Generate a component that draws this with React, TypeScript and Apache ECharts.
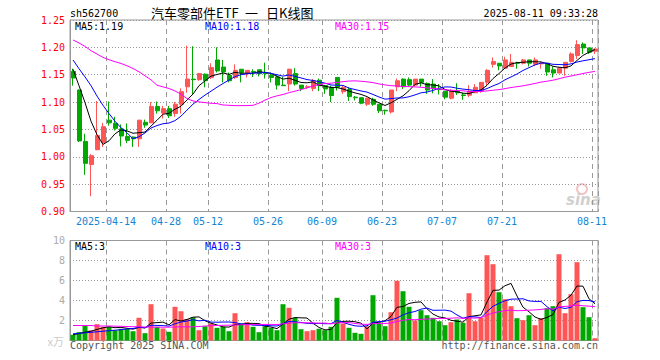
import React, { useEffect, useRef } from "react";
import * as echarts from "echarts";

const dates = ["04-03","04-07","04-08","04-09","04-10","04-11","04-14","04-15","04-16","04-17","04-18","04-21","04-22","04-23","04-24","04-25","04-28","04-29","04-30","05-06","05-07","05-08","05-09","05-12","05-13","05-14","05-15","05-16","05-19","05-20","05-21","05-22","05-23","05-26","05-27","05-28","05-29","05-30","06-03","06-04","06-05","06-06","06-09","06-10","06-11","06-12","06-13","06-16","06-17","06-18","06-19","06-20","06-23","06-24","06-25","06-26","06-27","06-30","07-01","07-02","07-03","07-04","07-07","07-08","07-09","07-10","07-11","07-14","07-15","07-16","07-17","07-18","07-21","07-22","07-23","07-24","07-25","07-28","07-29","07-30","07-31","08-01","08-04","08-05","08-06","08-07","08-08","08-11"];

const tickDates = ["04-14","04-28","05-12","05-26","06-09","06-23","07-07","07-21","08-11"];
const tickLabels = ["2025-04-14","04-28","05-12","05-26","06-09","06-23","07-07","07-21","08-11"];

const opens = [1.156,1.122,1.028,0.986,1.013,1.026,1.067,1.061,1.051,1.037,1.036,1.033,1.063,1.062,1.092,1.080,1.088,1.079,1.096,1.128,1.142,1.141,1.151,1.145,1.177,1.164,1.149,1.145,1.160,1.152,1.156,1.159,1.153,1.149,1.146,1.131,1.133,1.152,1.131,1.127,1.125,1.140,1.130,1.127,1.145,1.119,1.123,1.109,1.108,1.096,1.105,1.096,1.085,1.082,1.128,1.142,1.141,1.131,1.142,1.134,1.133,1.124,1.120,1.107,1.120,1.113,1.1125,1.117,1.120,1.136,1.169,1.171,1.162,1.165,1.1715,1.171,1.177,1.169,1.170,1.171,1.159,1.153,1.162,1.174,1.185,1.206,1.199,1.193];
const closes = [1.144,1.029,0.988,1.002,1.039,1.055,1.062,1.052,1.038,1.030,1.033,1.067,1.058,1.092,1.084,1.088,1.075,1.096,1.119,1.142,1.141,1.152,1.139,1.163,1.157,1.155,1.139,1.158,1.154,1.158,1.155,1.152,1.152,1.145,1.131,1.130,1.160,1.133,1.125,1.128,1.139,1.130,1.124,1.112,1.127,1.127,1.110,1.108,1.098,1.107,1.096,1.084,1.084,1.122,1.139,1.128,1.131,1.142,1.136,1.122,1.125,1.123,1.109,1.120,1.117,1.112,1.120,1.127,1.136,1.158,1.174,1.166,1.177,1.1725,1.171,1.177,1.171,1.177,1.171,1.155,1.153,1.162,1.1725,1.188,1.205,1.199,1.191,1.197];
const lows = [1.130,1.027,0.967,0.928,1.012,1.018,1.057,1.048,1.019,1.025,1.018,1.018,1.053,1.062,1.079,1.070,1.071,1.073,1.079,1.117,1.114,1.139,1.127,1.142,1.154,1.136,1.136,1.142,1.136,1.145,1.146,1.147,1.143,1.136,1.123,1.130,1.120,1.130,1.120,1.124,1.120,1.120,1.115,1.100,1.121,1.115,1.102,1.103,1.096,1.093,1.093,1.080,1.077,1.079,1.120,1.124,1.128,1.128,1.128,1.115,1.116,1.114,1.105,1.105,1.113,1.104,1.109,1.117,1.117,1.130,1.163,1.158,1.162,1.165,1.161,1.169,1.165,1.166,1.161,1.148,1.145,1.153,1.148,1.1725,1.179,1.188,1.188,1.188];
const highs = [1.161,1.123,1.042,1.005,1.102,1.062,1.101,1.073,1.059,1.061,1.037,1.067,1.068,1.100,1.101,1.093,1.093,1.100,1.125,1.203,1.202,1.153,1.152,1.171,1.200,1.177,1.154,1.169,1.160,1.158,1.160,1.159,1.172,1.154,1.149,1.146,1.161,1.162,1.131,1.131,1.142,1.143,1.130,1.130,1.145,1.130,1.127,1.111,1.108,1.108,1.108,1.096,1.086,1.122,1.143,1.143,1.145,1.142,1.142,1.136,1.142,1.133,1.120,1.1235,1.1345,1.117,1.131,1.133,1.136,1.160,1.1816,1.171,1.183,1.188,1.1737,1.1786,1.177,1.1816,1.1737,1.171,1.165,1.1645,1.1725,1.191,1.213,1.209,1.199,1.198];

const volumes = [0.57,0.83,1.5,1.0,1.63,1.37,1.37,1.03,1.17,1.17,0.93,2.27,0.73,3.63,1.37,1.2,0.87,3.37,2.93,2.15,2.33,1.03,1.43,1.7,1.27,1.37,0.93,2.73,1.7,1.83,1.37,0.83,1.43,1.27,1.03,3.63,3.27,2.27,1.13,0.93,1.03,1.17,1.03,1.37,4.27,1.7,1.27,0.77,0.67,1.43,4.53,1.83,1.43,2.83,5.97,4.93,3.37,2.0,3.03,2.53,2.27,1.93,1.53,1.83,2.1,1.77,4.73,1.93,2.27,8.53,7.63,4.83,4.13,3.43,2.23,2.03,2.53,1.53,2.23,3.23,3.43,8.63,2.73,4.63,7.83,3.33,2.33,0.23];

// Moving-average values at the left edge (they depend on days before the window)
const ma5Head = [1.160, 1.130, 1.099, 1.065];
const ma10Head = [1.177, 1.161, 1.146, 1.130, 1.111, 1.094, 1.079, 1.065, 1.053];
const ma30Head = [1.2135,1.208,1.2018,1.1939,1.1878,1.1816,1.1774,1.1737,1.1706,1.1663,1.1614,1.1553,1.148,1.1406,1.1308,1.1278,1.1247,1.1204,1.1143,1.1064,1.1021,1.1002,1.099,1.0978,1.0972,1.0947,1.0941,1.0935,1.0935];
const vma5Head = [0.57, 0.7, 0.83, 0.93];
const vma10Head = [0.67, 0.72, 0.77, 0.82, 0.87, 0.93, 0.98, 1.03, 1.08];
const vma30Head = [1.5,1.5,1.5,1.5,1.45,1.45,1.45,1.43,1.42,1.4,1.38,1.37,1.35,1.35,1.33,1.33,1.33,1.35,1.37,1.37,1.37,1.4,1.45,1.48,1.5,1.52,1.53,1.55,1.57];

const RED = "#ff5555";
const GREEN = "#00a800";
const MONO = '"DejaVu Sans Mono", "Liberation Mono", monospace';
const CJK = '13px "Noto Sans CJK SC"';

function movingAvg(vals: number[], n: number, head: number[]) {
  return vals.map((_, i) => {
    if (i < head.length) return head[i];
    let s = 0;
    for (let k = i - n + 1; k <= i; k++) s += vals[k];
    return +(s / n).toFixed(4);
  });
}

const tickIdx = new Set(tickDates.map((d) => dates.indexOf(d)));

function txt(text: string, x: number, y: number, fill: string, opts: any = {}) {
  return {
    type: "text",
    x,
    y,
    silent: true,
    style: {
      text,
      fill,
      font: opts.font || `10px ${MONO}`,
      textAlign: opts.align || "left",
      align: opts.align || "left",
      textVerticalAlign: "middle",
      verticalAlign: "middle",
    },
  };
}

export default function App() {
  const ref = useRef<HTMLDivElement>(null);
  useEffect(() => {
    if (!ref.current) return;
    const chart = echarts.init(ref.current, null, { renderer: "svg" });
    const candles = opens.map((o, i) => [o, closes[i], lows[i], highs[i]]);
    const volData = volumes.map((v, i) => ({
      value: v,
      itemStyle: { color: closes[i] >= opens[i] ? RED : GREEN },
    }));
    const vSplit = {
      show: true,
      interval: (idx: number) => tickIdx.has(idx),
      lineStyle: { color: "#999", type: [5, 4], width: 1 },
    };
    const lineBase = { type: "line", symbol: "none", silent: true, lineStyle: { width: 1 } };
    chart.setOption({
      animation: false,
      grid: [
        { left: 70, right: 62, top: 20, height: 191.5, show: true, borderColor: "#999", borderWidth: 1 },
        { left: 70, right: 62, top: 240.5, height: 100, show: true, borderColor: "#999", borderWidth: 1 },
      ],
      xAxis: [
        {
          type: "category",
          gridIndex: 0,
          data: dates,
          boundaryGap: true,
          axisLine: { lineStyle: { color: "#999" } },
          axisTick: { show: false },
          axisLabel: {
            interval: (idx: number) => tickIdx.has(idx),
            formatter: (v: string) => tickLabels[tickDates.indexOf(v)],
            color: "#1484d4",
            fontFamily: MONO,
            fontSize: 10,
            margin: 5,
            padding: [0, 6, 0, 0],
          },
          splitLine: vSplit,
        },
        {
          type: "category",
          gridIndex: 1,
          data: dates,
          boundaryGap: true,
          axisLine: { lineStyle: { color: "#999" } },
          axisTick: { show: false },
          axisLabel: { show: false },
          splitLine: vSplit,
        },
      ],
      yAxis: [
        {
          type: "value",
          gridIndex: 0,
          min: 0.9,
          max: 1.25,
          interval: 0.05,
          axisLine: { show: true, lineStyle: { color: "#999" } },
          axisTick: { show: false },
          axisLabel: {
            formatter: (v: number) => v.toFixed(2),
            color: "#ff0000",
            fontFamily: MONO,
            fontSize: 10,
            margin: 5,
          },
          splitLine: { lineStyle: { color: "#999", type: [1, 2] } },
        },
        {
          type: "value",
          gridIndex: 1,
          min: 0,
          max: 10,
          interval: 2,
          axisLine: { show: true, lineStyle: { color: "#999" } },
          axisTick: { show: false },
          axisLabel: {
            formatter: (v: number) => (v === 0 ? "" : String(v)),
            color: "#aaa",
            fontFamily: MONO,
            fontSize: 10,
            margin: 5,
          },
          splitLine: { lineStyle: { color: "#999", type: [1, 2] } },
        },
      ],
      series: [
        {
          type: "candlestick",
          xAxisIndex: 0,
          yAxisIndex: 0,
          data: candles,
          barWidth: 4.5,
          silent: true,
          itemStyle: { color: RED, color0: GREEN, borderColor: RED, borderColor0: GREEN, borderWidth: 1 },
        },
        { ...lineBase, xAxisIndex: 0, yAxisIndex: 0, data: movingAvg(closes, 5, ma5Head), lineStyle: { width: 1, color: "#000" } },
        { ...lineBase, xAxisIndex: 0, yAxisIndex: 0, data: movingAvg(closes, 10, ma10Head), lineStyle: { width: 1, color: "#0000ff" } },
        { ...lineBase, xAxisIndex: 0, yAxisIndex: 0, data: movingAvg(closes, 30, ma30Head), lineStyle: { width: 1, color: "#ff00ff" } },
        { type: "bar", xAxisIndex: 1, yAxisIndex: 1, data: volData, barWidth: 5, silent: true },
        { ...lineBase, xAxisIndex: 1, yAxisIndex: 1, data: movingAvg(volumes, 5, vma5Head), lineStyle: { width: 1, color: "#000" } },
        { ...lineBase, xAxisIndex: 1, yAxisIndex: 1, data: movingAvg(volumes, 10, vma10Head), lineStyle: { width: 1, color: "#0000ff" } },
        { ...lineBase, xAxisIndex: 1, yAxisIndex: 1, data: movingAvg(volumes, 30, vma30Head), lineStyle: { width: 1, color: "#ff00ff" } },
      ],
      graphic: [
        txt("sh562700", 70, 13, "#000"),
        txt("汽车零部件ETF", 151, 12, "#000", { font: CJK }),
        txt("一", 245, 12, "#000", { font: CJK }),
        txt("日K线图", 266, 12, "#000", { font: CJK }),
        txt("2025-08-11 09:33:28", 598, 13, "#000", { align: "right" }),
        txt("MA5:1.19", 75, 26, "#000"),
        txt("MA10:1.18", 205, 26, "#0000ff"),
        txt("MA30:1.15", 335, 26, "#ff00ff"),
        txt("MA5:3", 75, 246.5, "#000"),
        txt("MA10:3", 205, 246.5, "#0000ff"),
        txt("MA30:3", 335, 246.5, "#ff00ff"),
        txt("x万", 64, 341, "#cccccc", { align: "right", font: '11px "Noto Sans CJK SC"' }),
        txt("Copyright 2025 SINA.COM", 70, 345.5, "#555"),
        txt("http://finance.sina.com.cn", 598, 345.5, "#555", { align: "right" }),
        { type: "circle", silent: true, shape: { cx: 582, cy: 189, r: 5 }, style: { fill: "none", stroke: "#f4c4c4", lineWidth: 2 } },
        txt("sina", 566, 200, "#d0d0d0", { font: 'italic bold 15px "DejaVu Sans"' }),
      ],
    });
    return () => chart.dispose();
  }, []);
  return (
    <div
      ref={ref}
      style={{ position: "absolute", left: 0, top: 0, width: 660, height: 360 }}
    />
  );
}
